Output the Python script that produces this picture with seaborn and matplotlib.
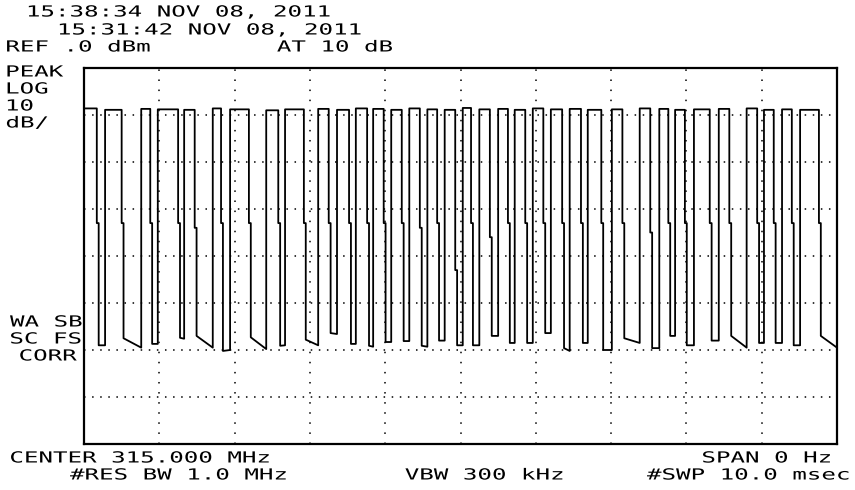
import matplotlib
matplotlib.use("Agg")
import matplotlib.pyplot as plt
import pandas as pd
import seaborn as sns
from matplotlib.patheffects import AbstractPathEffect
from matplotlib.transforms import Affine2D

# zero-span sweep, 10 ms across 10 divisions, 0 dBm ref, 10 dB/div
SWEEP_MS = 10.0
REF_DB = 0.0
BOTTOM_DB = -80.0
SAMPLE_MS = 0.025          # 401 trace points over 10 ms

# pulse edges (ms)
RISE_MS = [0.00, 0.28, 0.76, 0.98, 1.33, 1.71, 1.94, 2.42, 2.67, 3.11,
           3.36, 3.61, 3.84, 4.08, 4.32, 4.56, 4.79, 5.03, 5.25, 5.50,
           5.72, 5.96, 6.20, 6.45, 6.69, 7.01, 7.38, 7.64, 7.85, 8.10,
           8.43, 8.80, 9.03, 9.27, 9.51]
FALL_MS = [0.17, 0.50, 0.88, 1.25, 1.47, 1.82, 2.19, 2.58, 2.92, 3.25,
           3.52, 3.76, 3.98, 4.22, 4.46, 4.69, 4.93, 5.14, 5.39, 5.63,
           5.86, 6.10, 6.35, 6.60, 6.87, 7.15, 7.52, 7.76, 7.98, 8.31,
           8.57, 8.94, 9.16, 9.40, 9.76]
# pulse top level (dBm)
TOP_DB = [-8.6, -8.9, -8.7, -8.8, -8.9, -8.6, -8.8, -9.0, -8.8, -8.7,
          -8.9, -8.6, -8.7, -8.9, -8.6, -8.8, -8.9, -8.5, -8.8, -8.7,
          -8.9, -8.6, -8.8, -8.7, -8.9, -8.8, -8.6, -8.7, -8.9, -8.8,
          -8.7, -8.6, -8.9, -8.8, -8.9]
# intermediate sample on each falling edge
MID_DB = [-33, -33, -33, -33, -34, -33, -33, -33, -33, -33,
          -33, -33, -33, -33, -34, -33, -43, -33, -36, -33,
          -33, -33, -33, -33, -33, -33, -35, -33, -33, -33,
          -33, -33, -33, -33, -33]
# noise floor at start / end of each gap after a pulse
FLOOR_A_DB = [-59.0, -57.5, -58.7, -57.4, -57.0, -60.2, -57.3, -59.1, -57.8, -56.4,
              -58.7, -59.1, -58.3, -58.1, -59.1, -58.0, -59.0, -59.0, -57.0, -58.5,
              -58.5, -56.4, -59.6, -58.5, -60.0, -57.5, -59.6, -57.0, -59.0, -58.0,
              -57.0, -58.5, -58.5, -59.0, -57.0]
FLOOR_B_DB = [-59.0, -59.5, -58.7, -57.6, -59.5, -60.0, -59.8, -59.0, -59.0, -56.6,
              -58.7, -59.3, -58.3, -58.1, -59.3, -58.0, -59.0, -59.0, -57.0, -58.5,
              -58.5, -56.4, -60.2, -58.5, -60.0, -58.5, -59.6, -57.0, -59.0, -58.0,
              -59.5, -58.5, -58.5, -59.0, -59.5]
START_DB = -33.0
END_DB = -33.0

HEADER_1 = "15:38:34 NOV 08, 2011"
HEADER_2 = "15:31:42 NOV 08, 2011"
REF_TXT = "REF .0 dBm"
ATTEN_TXT = "AT 10 dB"
LEFT_TOP = ["PEAK", "LOG", "10", "dB/"]
LEFT_BOT = ["WA SB", "SC FS", " CORR"]
CENTER_TXT = "CENTER 315.000 MHz"
SPAN_TXT = "SPAN 0 Hz"
RBW_TXT = "#RES BW 1.0 MHz"
VBW_TXT = "VBW 300 kHz"
SWP_TXT = "#SWP 10.0 msec"

W, H = 855, 490


class Spread(AbstractPathEffect):
    """stretch text sideways to mimic the wide analyzer character cell"""
    def __init__(self, sx):
        super().__init__()
        self._sx = sx

    def draw_path(self, renderer, gc, tpath, affine, rgbFace=None):
        x0 = affine.transform_path(tpath).get_extents().x0
        aff = affine + Affine2D().translate(-x0, 0).scale(self._sx, 1).translate(x0, 0)
        renderer.draw_path(gc, tpath, aff, rgbFace)


def build_trace():
    pts = [(0.0, START_DB)]
    n = len(RISE_MS)
    for i in range(n):
        if i > 0:
            pts.append((RISE_MS[i], FLOOR_B_DB[i - 1]))
        pts.append((RISE_MS[i], TOP_DB[i]))
        pts.append((FALL_MS[i], TOP_DB[i]))
        pts.append((FALL_MS[i], MID_DB[i]))
        pts.append((FALL_MS[i] + SAMPLE_MS, MID_DB[i]))
        pts.append((FALL_MS[i] + SAMPLE_MS, FLOOR_A_DB[i]))
    pts.append((SWEEP_MS, FLOOR_B_DB[-1]))
    pts.append((SWEEP_MS, END_DB))
    return pd.DataFrame(pts, columns=["ms", "db"])


sns.set_style("white")
plt.rcParams["font.family"] = ["DejaVu Sans Mono"]

fig = plt.figure(figsize=(W / 100, H / 100), dpi=100)
fig.patch.set_facecolor("white")
ax = fig.add_axes([84 / W, 1 - 444 / H, (837 - 84) / W, (444 - 68) / H])

df = build_trace()
sns.lineplot(data=df, x="ms", y="db", sort=False, estimator=None,
             color="black", lw=1.3, ax=ax)

ax.set_xlim(0, SWEEP_MS)
ax.set_ylim(BOTTOM_DB, REF_DB)
ax.set_xticks([])
ax.set_yticks([])
ax.set_xlabel("")
ax.set_ylabel("")
for sp in ax.spines.values():
    sp.set_color("black")
    sp.set_linewidth(1.6)

# dotted graticule
for k in range(1, 10):
    ax.axvline(k, color="black", lw=1.1, ls=(0, (1, 5.6)), zorder=0)
for k in range(1, 8):
    ax.axhline(-10 * k, color="black", lw=1.1, ls=(0, (1, 4.3)), zorder=0)

FS = 11
fx = Spread(1.58)


def put(x, y, s):
    fig.text(x / W, 1 - y / H, s, ha="left", va="center", fontsize=FS,
             color="black", path_effects=[fx])


put(27, 12, HEADER_1)
put(58, 30, HEADER_2)
put(6, 47, REF_TXT)
put(277, 47, ATTEN_TXT)
for i, s in enumerate(LEFT_TOP):
    put(6, 72 + 17 * i, s)
for i, s in enumerate(LEFT_BOT):
    put(10, 322 + 17 * i, s)
put(10, 458, CENTER_TXT)
put(702, 458, SPAN_TXT)
put(70, 475, RBW_TXT)
put(405, 475, VBW_TXT)
put(647, 475, SWP_TXT)

fig.savefig("out.png", dpi=100, facecolor="white")
